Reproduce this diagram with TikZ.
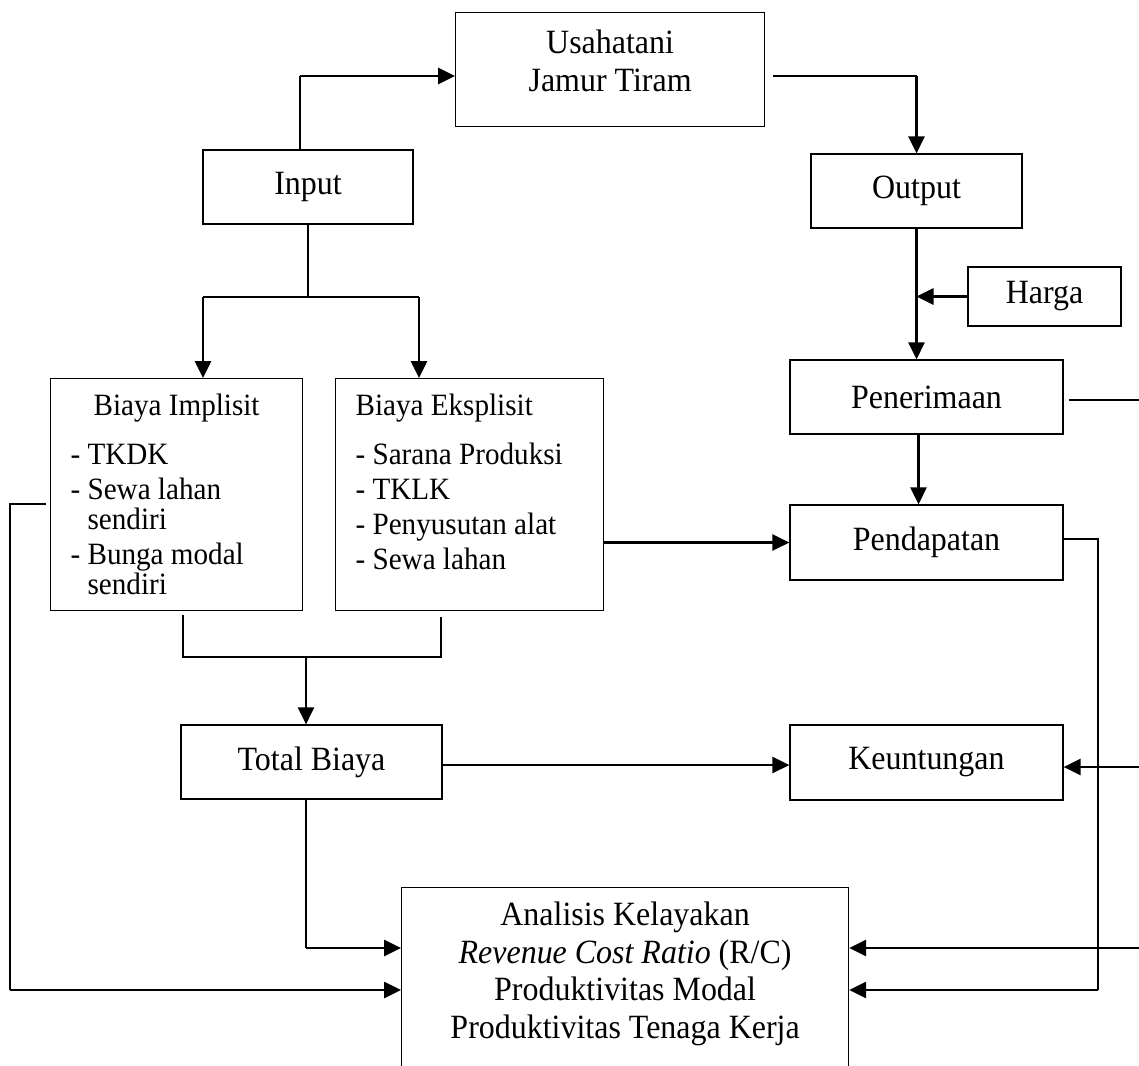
\documentclass[tikz,border=0pt]{standalone}
\usepackage{fontspec}
\setmainfont{Liberation Serif}[FakeStretch=0.94]
\usetikzlibrary{arrows.meta}

% text block fixed to the top of a box
\newcommand{\topbox}[3]{\begin{minipage}[t][#1][t]{#2}#3\end{minipage}}
% one dashed item with hanging indent
\newcommand{\butir}[1]{\par\hangindent=8.5pt\hangafter=1\noindent\makebox[8.5pt][l]{-}#1}

\begin{document}
\begin{tikzpicture}[x=0.5pt, y=-0.5pt,
    >={Triangle[length=8.5pt,width=8pt]},
    font=\fontsize{17}{19}\selectfont,
    box/.style={draw, line width=0.6pt, inner sep=0pt},
    listbox/.style={box, anchor=north west, inner xsep=10pt},
    link/.style={line width=0.6pt},
    flow/.style={->, line width=1.35pt}]
    % \draw[help lines, gray] (0, 0) grid (1139, 1065);
    \clip (0, 0) rectangle (1139, 1065);

    \node[listbox, inner xsep=0pt] (usaha) at (455, 12)
        {\topbox{56.8pt}{154.5pt}{\centering\rule{0pt}{20.5pt}Usahatani\\Jamur Tiram}};
    \node[box, minimum width=105pt, minimum height=37pt] (input) at (308, 187) {Input};
    \node[box, minimum width=105.5pt, minimum height=37pt] (output) at (916.5, 191) {Output};
    \node[box, minimum width=76.5pt, minimum height=29.5pt] (harga) at (1044.5, 296.5) {Harga};
    \node[box, minimum width=136.5pt, minimum height=37pt] (terima) at (926.5, 397) {Penerimaan};
    \node[box, minimum width=136.5pt, minimum height=37.5pt] (dapat) at (926.5, 542.5) {Pendapatan};

    \node[listbox] (implisit) at (50, 378)
        {\topbox{116pt}{106pt}{\fontsize{15.5}{15}\selectfont
         \centering\rule{0pt}{18.5pt}Biaya Implisit\par
         \vspace{7pt}\raggedright\parskip=2.5pt
         \butir{TKDK}
         \butir{Sewa lahan\newline sendiri}
         \butir{Bunga modal\newline sendiri}}};
    \node[listbox] (eksplisit) at (335, 378)
        {\topbox{116pt}{114pt}{\fontsize{15.5}{15}\selectfont
         \raggedright\rule{0pt}{18.5pt}Biaya Eksplisit\par
         \vspace{7pt}\parskip=2.5pt
         \butir{Sarana Produksi}
         \butir{TKLK}
         \butir{Penyusutan alat}
         \butir{Sewa lahan}}};

    \node[box, minimum width=130.5pt, minimum height=37pt] (total) at (311.5, 762) {Total Biaya};
    \node[box, minimum width=136.5pt, minimum height=37.5pt] (untung) at (926.5, 762.5) {Keuntungan};

    \node[listbox, inner xsep=0pt] (analisis) at (401, 887)
        {\topbox{100pt}{223.5pt}{\centering\fontsize{17}{18.75}\selectfont
         \rule{0pt}{19pt}Analisis Kelayakan\\
         \textit{Revenue Cost Ratio} (R/C)\\
         Produktivitas Modal\\
         Produktivitas Tenaga Kerja}};

    % input to usahatani to output
    \coordinate (inup) at (300, 76);
    \coordinate (usright) at (output.north |- inup);
    \draw[link] (input.north -| inup) -- (inup);
    \draw[flow] (inup) -- (inup -| usaha.west);
    \draw[link, shorten <=4pt] (usaha.east |- usright) -- (usright);
    \draw[flow] (usright) -- (output.north);

    % right column
    \draw[flow] (output.south) -- (output.south |- terima.north);
    \draw[flow] (harga.west) -- (harga.west -| output.south);
    \coordinate (edgeA) at (1139, 400);
    \draw[link, shorten <=2.5pt] (terima.east |- edgeA) -- (edgeA);
    \draw[flow] ([xshift=-4pt]terima.south) -- ([xshift=-4pt]dapat.north);
    \coordinate (edgeB) at (1139, 767);
    \draw[flow] (edgeB) -- (edgeB -| untung.east);
    \coordinate (dapright) at (1098, 539);
    \coordinate (dapdown) at (1098, 990);
    \draw[link] (dapat.east |- dapright) -- (dapright) -- (dapdown);
    \draw[flow] (dapdown) -- (dapdown -| analisis.east);
    \coordinate (edgeC) at (1139, 948);
    \draw[flow] (edgeC) -- (edgeC -| analisis.east);

    % input split into the two costs
    \coordinate (split) at (308, 297);
    \coordinate (toimp) at (203, 297);
    \coordinate (toeks) at (419, 297);
    \draw[link] (input.south) -- (split);
    \draw[link] (toimp) -- (toeks);
    \draw[flow] (toimp) -- (toimp |- implisit.north);
    \draw[flow] (toeks) -- (toeks |- eksplisit.north);
    \draw[flow] (dapat.west -| eksplisit.east) -- (dapat.west);

    % costs into total
    \coordinate (impdown) at (183, 657);
    \coordinate (eksdown) at (441, 657);
    \coordinate (join) at (306, 657);
    \draw[link, shorten <=2pt, shorten >=3pt]
        (implisit.south -| impdown) -- (impdown) -- (eksdown) -- (eksplisit.south -| eksdown);
    \draw[flow] (join) -- (join |- total.north);
    \coordinate (totright) at (442, 765);
    \draw[flow] (totright) -- (totright -| untung.west);

    % lines into analisis
    \coordinate (totlow) at (306, 948);
    \draw[link] (total.south -| totlow) -- (totlow);
    \draw[flow] (totlow) -- (totlow -| analisis.west);
    \coordinate (impleft) at (10, 504);
    \coordinate (leftlow) at (10, 990);
    \draw[link, shorten <=2pt] (implisit.west |- impleft) -- (impleft) -- (leftlow);
    \draw[flow] (leftlow) -- (leftlow -| analisis.west);
\end{tikzpicture}
\end{document}
